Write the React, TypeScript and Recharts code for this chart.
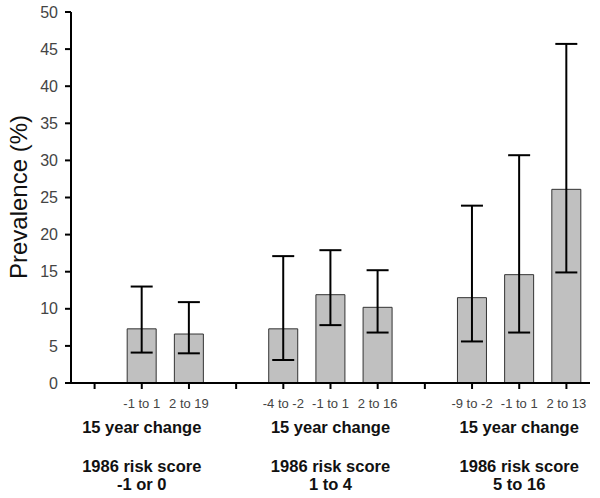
import { BarChart, Bar, XAxis, YAxis, ErrorBar, Label } from "recharts";

// one slot per x position; empty slots separate the three risk-score groups
const changeLabels = ["", "-1 to 1", "2 to 19", "", "-4 to -2", "-1 to 1", "2 to 16", "", "-9 to -2", "-1 to 1", "2 to 13"];
const prevalence = [null, 7.3, 6.6, null, 7.3, 11.9, 10.2, null, 11.5, 14.6, 26.1];
const ciLow = [null, 4.1, 4.0, null, 3.1, 7.8, 6.8, null, 5.6, 6.8, 14.9];
const ciHigh = [null, 13.0, 10.9, null, 17.1, 17.9, 15.2, null, 23.9, 30.7, 45.7];
const groupCenters = [1, 5, 9];
const groupLabels = ["-1 or 0", "1 to 4", "5 to 16"];
const yTicks = [0, 5, 10, 15, 20, 25, 30, 35, 40, 45, 50];

const data = changeLabels.map((label, i) => ({
  slot: i,
  label,
  value: prevalence[i],
  err: prevalence[i] == null ? null : [prevalence[i]! - ciLow[i]!, ciHigh[i]! - prevalence[i]!],
}));

const font = "'Liberation Sans', Arial, sans-serif";

function SlotTick(props: any) {
  const { x, y, payload } = props;
  const i = payload.index ?? payload.value;
  const g = groupCenters.indexOf(i);
  return (
    <g>
      <text x={x} y={y + 17} textAnchor="middle" fontSize={13} fill="#444" fontFamily={font}>
        {changeLabels[i]}
      </text>
      {g >= 0 && (
        <g fontFamily={font} fontSize={16.5} fontWeight="bold" fill="#111" textAnchor="middle">
          <text x={x} y={y + 42}>15 year change</text>
          <text x={x} y={y + 81}>1986 risk score</text>
          <text x={x} y={y + 99}>{groupLabels[g]}</text>
        </g>
      )}
    </g>
  );
}

export default function App() {
  return (
    <div style={{ position: "absolute", left: 0, top: 0, background: "#fff" }}>
      <BarChart
        width={600}
        height={498}
        data={data}
        margin={{ top: 12, right: 10, left: 0, bottom: 0 }}
        barCategoryGap={18}
      >
        <XAxis
          dataKey="slot"
          type="category"
          height={115}
          tickSize={6}
          tickMargin={2}
          interval={0}
          stroke="#000"
          strokeWidth={2}
          tick={<SlotTick />}
        />
        <YAxis
          domain={[0, 50]}
          ticks={yTicks}
          width={71}
          tickSize={6}
          tickMargin={7}
          stroke="#000"
          strokeWidth={2}
          tick={{ fontSize: 16, fill: "#444", fontFamily: font }}
        >
          <Label
            content={() => (
              <text
                x={18}
                y={197}
                transform="rotate(-90 18 197)"
                textAnchor="middle"
                dominantBaseline="central"
                fontSize={24}
                fill="#111"
                fontFamily={font}
              >
                Prevalence (%)
              </text>
            )}
          />
        </YAxis>
        <Bar dataKey="value" fill="#c0c0c0" stroke="#333" strokeWidth={1} barSize={29} isAnimationActive={false}>
          <ErrorBar dataKey="err" width={11} stroke="#000" strokeWidth={2} isAnimationActive={false} />
        </Bar>
      </BarChart>
    </div>
  );
}
